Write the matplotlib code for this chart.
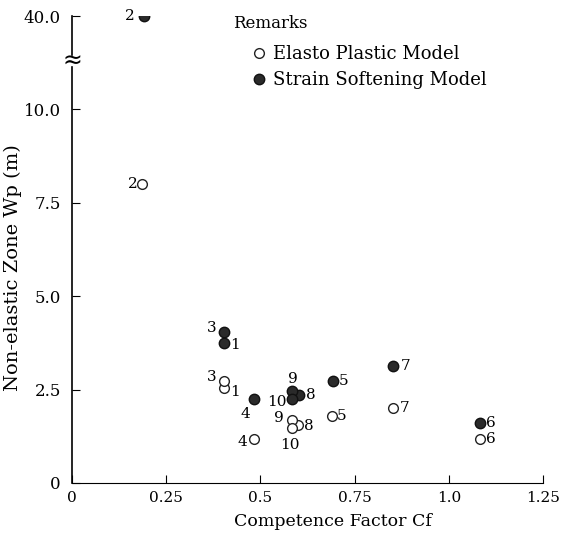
import numpy as np
import matplotlib.pyplot as plt

plt.rcParams['font.family'] = ['DejaVu Serif']

# case numbers, competence factor and zone width for both models
ep_case = ['1', '2', '3', '4', '5', '6', '7', '8', '9', '10']
ep_cf = [0.403, 0.186, 0.403, 0.482, 0.69, 1.082, 0.853, 0.60, 0.583, 0.583]
ep_wp = [2.54, 8.0, 2.73, 1.17, 1.80, 1.17, 2.0, 1.55, 1.69, 1.47]

ss_case = ['1', '2', '3', '4', '5', '6', '7', '8', '9', '10']
ss_cf = [0.403, 0.19, 0.403, 0.482, 0.692, 1.082, 0.853, 0.603, 0.585, 0.585]
ss_wp = [3.76, 40.0, 4.03, 2.26, 2.72, 1.6, 3.12, 2.36, 2.46, 2.24]

# label offsets (points) per case
ep_off = [(8, -3), (-7, 0), (-9, 3), (-8, -2), (7, 0), (8, 0), (8, 0), (8, -1), (-9, 1), (-1, -12)]
ss_off = [(8, -2), (-10, 0), (-9, 3), (-6, -11), (8, 0), (8, 0), (9, 0), (8, 0), (0, 9), (-11, -2)]

xticks = [0, 0.25, 0.5, 0.75, 1.0, 1.25]
xticklabels = ['0', '0.25', '0.5', '0.75', '1.0', '1.25']
yticks = [0, 2.5, 5.0, 7.5, 10.0, 40.0]
yticklabels = ['0', '2.5', '5.0', '7.5', '10.0', '40.0']


def fwd(y):
    y = np.asarray(y, dtype=float)
    return np.where(y <= 10, y, 10 + (y - 10) * 2.5 / 30)


def inv(y):
    y = np.asarray(y, dtype=float)
    return np.where(y <= 10, y, 10 + (y - 10) * 30 / 2.5)


fig = plt.figure(figsize=(5.74, 5.37), dpi=100)
ax = fig.add_axes([0.1254, 0.1006, 0.8206, 0.8694])
ax.set_yscale('function', functions=(fwd, inv))

ax.plot(ep_cf, ep_wp, 'o', ms=7, mfc='white', mec='#222222', mew=1.0, ls='none', label='Elasto Plastic Model')
ax.plot(ss_cf, ss_wp, 'o', ms=7.5, mfc='#2a2a2a', mec='#111111', mew=1.0, ls='none', label='Strain Softening Model')

for c, x, y, o in zip(ep_case, ep_cf, ep_wp, ep_off):
    ax.annotate(c, (x, y), xytext=o, textcoords='offset points', ha='center', va='center', fontsize=11)
for c, x, y, o in zip(ss_case, ss_cf, ss_wp, ss_off):
    ax.annotate(c, (x, y), xytext=o, textcoords='offset points', ha='center', va='center', fontsize=11)

ax.set_xlim(0, 1.25)
ax.set_ylim(0, 40)
ax.set_xticks(xticks)
ax.set_xticklabels(xticklabels)
ax.set_yticks(yticks)
ax.set_yticklabels(yticklabels)
ax.tick_params(direction='in', length=6, labelsize=11, pad=6)
ax.tick_params(axis='y', labelsize=12, pad=8)
ax.spines['top'].set_visible(False)
ax.spines['right'].set_visible(False)
ax.spines['left'].set_visible(False)

# broken y axis
ax.plot([0, 0], [0, 23.5], color='black', lw=1.2, clip_on=False)
ax.plot([0, 0], [27.4, 40], color='black', lw=1.2, clip_on=False)
ax.text(0, 25.5, '\u2248', rotation=0, ha='center', va='center', fontsize=17,
        family='DejaVu Sans')

ax.set_xlabel('Competence Factor Cf', fontsize=12.5)
ax.set_ylabel('Non-elastic Zone Wp (m)', fontsize=14)
ax.xaxis.set_label_coords(0.555, -0.065)
ax.yaxis.set_label_coords(-0.106, 0.462)

ax.text(0.342, 1.003, 'Remarks', transform=ax.transAxes, fontsize=12, va='top')
ax.legend(loc='upper left', bbox_to_anchor=(0.363, 0.953), frameon=False, fontsize=13,
          handletextpad=0.25, borderaxespad=0, handlelength=1.0, labelspacing=0.45)

fig.savefig('out.png', dpi=100)
